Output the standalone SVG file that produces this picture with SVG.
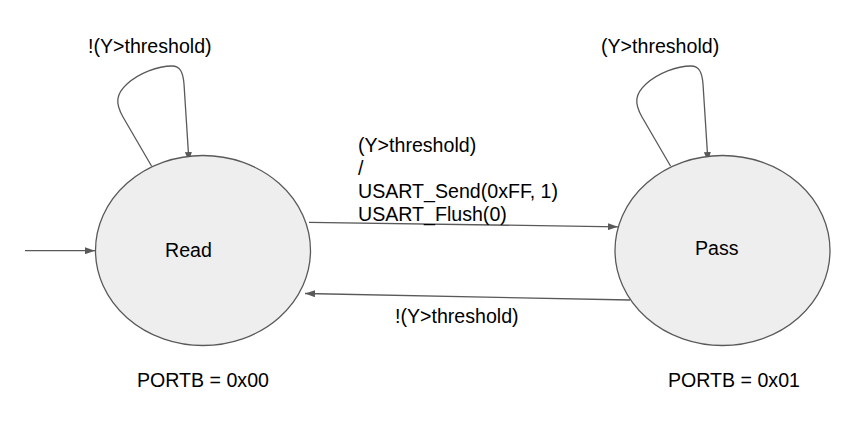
<svg xmlns="http://www.w3.org/2000/svg" width="861" height="430" viewBox="0 0 861 430">
<style>
.node{fill:#eeeeee;stroke:#595959;stroke-width:1.3}
.edge{fill:none;stroke:#595959;stroke-width:1.3}
text{font-family:"Liberation Sans",Arial,sans-serif;font-size:19.6px;fill:#000}
</style>
<defs>
<marker id="arr" markerUnits="userSpaceOnUse" viewBox="0 0 10 7" refX="10" refY="3.5" markerWidth="10" markerHeight="7" orient="auto">
<path d="M0,0 L10,3.5 L0,7 z" fill="#595959"/>
</marker>
</defs>
<rect width="861" height="430" fill="#ffffff"/>
<g id="connectors">
<path class="edge" d="M25,250.7 L95,250.7" marker-end="url(#arr)"/>
<path class="edge" d="M151.5,166 L123,117 C115,103 116,94 127,84 C139,73 158,66 172,66 C180,66 183,72 184,84 L189,162" marker-end="url(#arr)"/>
<path class="edge" d="M670.5,166 L642,117 C634,103 635,94 646,84 C658,73 677,66 691,66 C699,66 702,72 703,84 L708,162" marker-end="url(#arr)"/>
<path class="edge" d="M309,222.3 L618,226.8" marker-end="url(#arr)"/>
<path class="edge" d="M630,300 L305,293.5" marker-end="url(#arr)"/>
<text x="88" y="53">!(Y&gt;threshold)</text>
<text x="601" y="53">(Y&gt;threshold)</text>
<text x="358" y="152">(Y&gt;threshold)</text>
<text x="358" y="175">/</text>
<text x="358" y="198">USART_Send(0xFF, 1)</text>
<text x="358" y="221">USART_Flush(0)</text>
<text x="395" y="323">!(Y&gt;threshold)</text>
</g>
<g id="read">
<ellipse class="node" cx="203" cy="250.5" rx="107.5" ry="95"/>
<text x="165" y="257">Read</text>
<text x="137" y="387">PORTB = 0x00</text>
</g>
<g id="pass">
<ellipse class="node" cx="722.5" cy="250.5" rx="107.5" ry="95"/>
<text x="695" y="255">Pass</text>
<text x="668" y="387">PORTB = 0x01</text>
</g>
</svg>
